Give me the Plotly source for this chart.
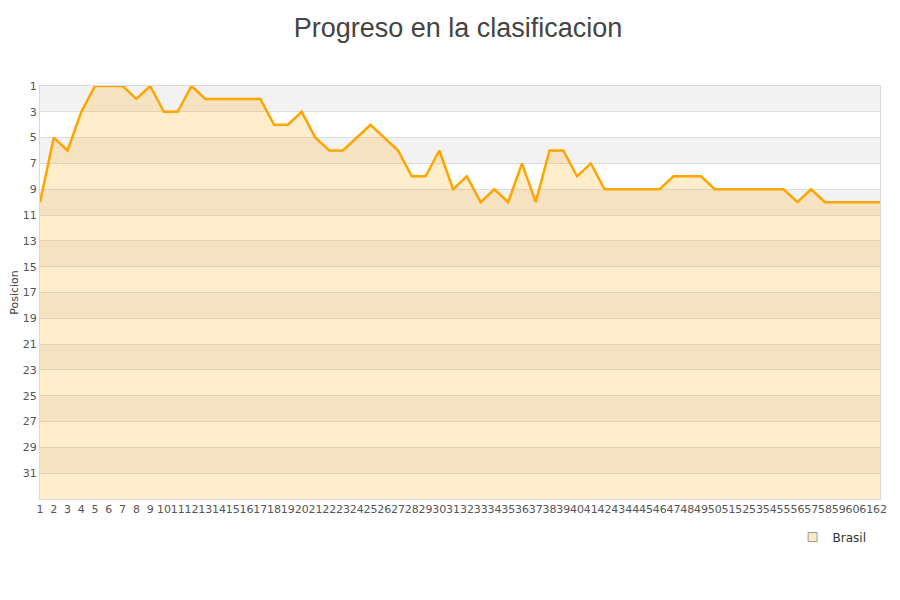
import plotly.graph_objects as go

jornadas = list(range(1, 63))
posicion = [10, 5, 6, 3, 1, 1, 1, 2, 1, 3,
            3, 1, 2, 2, 2, 2, 2, 4, 4, 3,
            5, 6, 6, 5, 4, 5, 6, 8, 8, 6,
            9, 8, 10, 9, 10, 7, 10, 6, 6, 8,
            7, 9, 9, 9, 9, 9, 8, 8, 8, 9,
            9, 9, 9, 9, 9, 10, 9, 10, 10, 10,
            10, 10]
equipo = "Brasil"
y_ticks = list(range(1, 33, 2))
y_min, y_max = 1, 33

fig = go.Figure()

# background bands
for i, t in enumerate(y_ticks):
    if i % 2 == 0:
        fig.add_shape(type="rect", xref="paper", yref="y", x0=0, x1=1,
                      y0=t, y1=t + 2, fillcolor="#f2f2f2", line_width=0, layer="below")

# baseline for fill
fig.add_trace(go.Scatter(x=jornadas, y=[y_max] * len(jornadas), mode="lines",
                         line=dict(width=0, color="rgba(0,0,0,0)"), showlegend=False,
                         hoverinfo="skip"))
fig.add_trace(go.Scatter(x=jornadas, y=posicion, mode="lines", fill="tonexty",
                         fillcolor="rgba(255,165,0,0.2)",
                         line=dict(color="#FFA500", width=2.5), showlegend=False,
                         name=equipo))
# legend entry
fig.add_trace(go.Scatter(x=[None], y=[None], mode="markers", name=equipo,
                         marker=dict(symbol="square", size=9, color="#FDE9C8",
                                     line=dict(color="#999999", width=1))))

fig.update_layout(
    width=900, height=600,
    paper_bgcolor="white", plot_bgcolor="white",
    margin=dict(l=32, r=28, t=78, b=109),
    title=dict(text="Progreso en la clasificacion", x=0.5, xanchor="center",
               y=0.984, yanchor="top",
               font=dict(family="Liberation Sans Narrow, Arial Narrow, Liberation Sans, sans-serif",
                         size=27, color="#444444")),
    font=dict(family="DejaVu Sans, Verdana, sans-serif", size=11, color="#555555"),
    legend=dict(x=0.99, xanchor="right", y=-0.057, yanchor="top",
                font=dict(size=12, color="#333333"), bgcolor="rgba(0,0,0,0)"),
    showlegend=True,
)
fig.update_xaxes(range=[1, 62], tickmode="array", tickvals=jornadas,
                 ticktext=[str(j) for j in jornadas], tickangle=0, automargin=False,
                 showgrid=False, zeroline=False, showline=True, linecolor="#d9d9d9",
                 mirror=True, ticks="", tickfont=dict(size=11, color="#555555"))
fig.update_yaxes(range=[y_max, y_min], tickmode="array", tickvals=y_ticks, automargin=False,
                 showgrid=True, gridcolor="#dddddd", gridwidth=1, zeroline=False,
                 showline=True, linecolor="#d9d9d9", mirror=True, ticks="",
                 tickfont=dict(size=11, color="#555555"),
                 title=dict(text="Posicion", font=dict(size=11, color="#444444"), standoff=2))

fig.write_html("out.html")
